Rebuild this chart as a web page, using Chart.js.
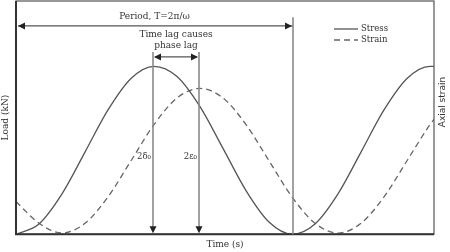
<!DOCTYPE html>
<html lang="en">
<head>
<meta charset="UTF-8">
<title>Stress and strain phase lag</title>
<script src="https://cdn.jsdelivr.net/npm/chart.js"></script>
<style>
  html, body { margin: 0; padding: 0; background: #fff; }
</style>
</head>
<body>
<canvas id="chart" width="450" height="252"></canvas>
<script>
// time axis in arbitrary units, load in % of axis height
const times  = [0, 23, 46, 69, 92, 115, 138, 161, 184, 207, 230, 253, 276, 299, 322, 345, 368, 391, 414, 418];
const stress = [0, 4.4, 17.3, 35.2, 53.3, 66.8, 72, 67.6, 54.7, 36.8, 18.7, 5.2, 0, 4.4, 17.3, 35.2, 53.3, 66.8, 72, 71.9];
const strain = [14, 4.7, 0.5, 4.7, 16, 31.5, 47, 58.4, 62.5, 58.4, 47, 31.5, 16, 4.7, 0.5, 4.7, 16, 31.5, 47, 49.2];

// annotations
const periodStart = 0;
const periodEnd = 277;
const periodLevel = 89.3;
const periodLabel = 'Period, T=2π/ω';
const peakTimes = [137, 183];
const peakLabels = ['2δ₀', '2ε₀'];
const lagLevel = 76;
const lagLines = ['Time lag causes', 'phase lag'];

const SERIF = '"DejaVu Serif", serif';
const INK = '#333';

function toXY(vals) {
  return times.map((t, i) => ({ x: t, y: vals[i] }));
}

function arrowHead(ctx, x, y, dir) {
  const L = 7, W = 3.5;
  ctx.beginPath();
  if (dir === 'left')  { ctx.moveTo(x, y); ctx.lineTo(x + L, y - W); ctx.lineTo(x + L, y + W); }
  if (dir === 'right') { ctx.moveTo(x, y); ctx.lineTo(x - L, y - W); ctx.lineTo(x - L, y + W); }
  if (dir === 'down')  { ctx.moveTo(x, y); ctx.lineTo(x - W, y - L); ctx.lineTo(x + W, y - L); }
  ctx.closePath();
  ctx.fill();
}

const overlay = {
  id: 'overlay',
  afterDatasetsDraw(chart) {
    const { ctx, chartArea: a, scales: { x, y } } = chart;
    ctx.save();

    // frame
    ctx.strokeStyle = '#555';
    ctx.lineWidth = 1.2;
    ctx.strokeRect(a.left, a.top, a.right - a.left, a.bottom - a.top);
    ctx.strokeStyle = '#333';
    ctx.lineWidth = 2;
    ctx.beginPath();
    ctx.moveTo(a.left, a.top);
    ctx.lineTo(a.left, a.bottom);
    ctx.lineTo(a.right, a.bottom);
    ctx.stroke();

    ctx.fillStyle = '#222';

    // period arrow
    const px0 = x.getPixelForValue(periodStart);
    const px1 = x.getPixelForValue(periodEnd);
    const py = y.getPixelForValue(periodLevel);
    ctx.strokeStyle = '#555';
    ctx.lineWidth = 1.2;
    ctx.beginPath();
    ctx.moveTo(px0 + 2, py);
    ctx.lineTo(px1, py);
    ctx.stroke();
    arrowHead(ctx, px0 + 2, py, 'left');
    arrowHead(ctx, px1 - 1, py, 'right');
    ctx.strokeStyle = '#8a8a8a';
    ctx.lineWidth = 1.6;
    ctx.beginPath();
    ctx.moveTo(px1, y.getPixelForValue(93));
    ctx.lineTo(px1, a.bottom);
    ctx.stroke();

    ctx.fillStyle = INK;
    ctx.font = '9px ' + SERIF;
    ctx.textAlign = 'center';
    ctx.textBaseline = 'middle';
    ctx.fillText(periodLabel, (px0 + px1) / 2, py - 9);

    // peak lines with arrows to the time axis
    const lx = peakTimes.map(t => x.getPixelForValue(t));
    const ly = y.getPixelForValue(lagLevel);
    ctx.strokeStyle = '#8a8a8a';
    ctx.lineWidth = 1.6;
    lx.forEach(xx => {
      ctx.beginPath();
      ctx.moveTo(xx, ly - 5);
      ctx.lineTo(xx, a.bottom - 3);
      ctx.stroke();
    });
    ctx.fillStyle = '#222';
    lx.forEach(xx => arrowHead(ctx, xx, a.bottom - 1, 'down'));

    // lag double arrow
    ctx.strokeStyle = '#555';
    ctx.lineWidth = 1.2;
    ctx.beginPath();
    ctx.moveTo(lx[0] + 2, ly);
    ctx.lineTo(lx[1] - 2, ly);
    ctx.stroke();
    arrowHead(ctx, lx[0] + 1, ly, 'left');
    arrowHead(ctx, lx[1] - 1, ly, 'right');

    ctx.fillStyle = INK;
    ctx.font = '9px ' + SERIF;
    const cx = (lx[0] + lx[1]) / 2;
    ctx.fillText(lagLines[0], cx, ly - 22);
    ctx.fillText(lagLines[1], cx, ly - 11);

    // amplitude labels
    ctx.font = '8.5px ' + SERIF;
    ctx.textAlign = 'right';
    const ay = y.getPixelForValue(33);
    lx.forEach((xx, i) => ctx.fillText(peakLabels[i], xx - 2, ay));

    // legend
    ctx.textAlign = 'left';
    ctx.font = '8.5px ' + SERIF;
    chart.data.datasets.forEach((ds, i) => {
      const yy = a.top + 28 + i * 11;
      ctx.strokeStyle = ds.borderColor;
      ctx.lineWidth = ds.borderWidth;
      ctx.setLineDash(ds.borderDash || []);
      ctx.beginPath();
      ctx.moveTo(334, yy);
      ctx.lineTo(358, yy);
      ctx.stroke();
      ctx.setLineDash([]);
      ctx.fillStyle = INK;
      ctx.fillText(ds.label, 361, yy);
    });

    // right axis title
    ctx.save();
    ctx.translate(a.right + 9, 102);
    ctx.rotate(-Math.PI / 2);
    ctx.textAlign = 'center';
    ctx.font = '9px "DejaVu Sans", sans-serif';
    ctx.fillStyle = INK;
    ctx.fillText('Axial strain', 0, 0);
    ctx.restore();

    ctx.restore();
  }
};

new Chart(document.getElementById('chart'), {
  type: 'line',
  data: {
    datasets: [
      { label: 'Stress', data: toXY(stress), borderColor: '#555', borderWidth: 1.3,
        pointRadius: 0, cubicInterpolationMode: 'monotone', yAxisID: 'y' },
      { label: 'Strain', data: toXY(strain), borderColor: '#666', borderWidth: 1.3,
        borderDash: [6, 4], pointRadius: 0, cubicInterpolationMode: 'monotone', yAxisID: 'y2' }
    ]
  },
  options: {
    responsive: false,
    animation: false,
    layout: { padding: { top: 1, right: 16, bottom: 0, left: 0 } },
    plugins: { legend: { display: false }, tooltip: { enabled: false } },
    scales: {
      x: {
        type: 'linear', min: 0, max: 418,
        ticks: { display: false },
        grid: { display: false, drawTicks: false },
        border: { display: false },
        title: { display: true, text: 'Time (s)', color: INK,
                 font: { family: SERIF, size: 9 }, padding: { top: 5, bottom: 2 } }
      },
      y: {
        min: 0, max: 100,
        ticks: { display: false },
        grid: { display: false, drawTicks: false },
        border: { display: false },
        title: { display: true, text: 'Load (kN)', color: INK,
                 font: { family: SERIF, size: 9 }, padding: { top: 0, bottom: 5.2 } }
      },
      y2: { min: 0, max: 100, display: false }
    }
  },
  plugins: [overlay]
});
</script>
</body>
</html>
